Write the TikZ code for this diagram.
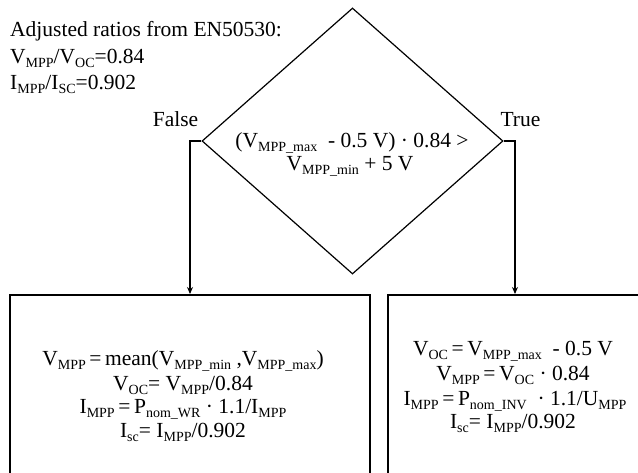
\documentclass[tikz,border=0pt]{standalone}
\usepackage{fontspec}
\setmainfont{Liberation Serif}
\usetikzlibrary{shapes.geometric,arrows.meta}
\newcommand\lo[1]{\raisebox{-0.2em}{\fontsize{14}{14}\selectfont #1}}
\tikzset{
  txt/.style={font=\fontsize{21.5}{25}\selectfont, inner sep=0pt},
  boxnode/.style={draw, line width=1.6pt, inner sep=0pt, anchor=north west, minimum width=360pt, minimum height=240pt},
  arr/.style={line width=1.2pt, -{Stealth[length=7pt,width=6pt]}},
}
\begin{document}
\begin{tikzpicture}[x=1pt,y=-1pt]
\useasboundingbox (0,0) rectangle (638,472);
\clip (0,0) rectangle (638,472);
% header
\node[txt, anchor=base west] (h1) at (10,36) {Adjusted ratios from EN50530:};
\node[txt, anchor=base west] (h2) at (10,63) {V\lo{MPP}/V\lo{OC}=0.84};
\node[txt, anchor=base west] (h3) at (10,89) {I\lo{MPP}/I\lo{SC}=0.902};
% decision
\node[diamond, draw, line width=1.2pt, inner sep=0pt, minimum width=301pt, minimum height=266pt] (dec) at (352.5,141) {};
\node[txt, anchor=base] (d1) at (352,147) {(V\lo{MPP\_max}\ \ - 0.5 V) · 0.84 >};
\node[txt, anchor=base] (d2) at (350,170) {V\lo{MPP\_min} + 5 V};
\node[txt, anchor=base] (fl) at (175.5,126) {False};
\node[txt, anchor=base] (tr) at (520.5,126) {True};
% boxes
\node[boxnode] (lbox) at (9,294) {};
\node[boxnode] (rbox) at (387,294) {};
\coordinate (lin) at (190,294);
\coordinate (rin) at (515,294);
\draw[arr] (dec.west) -| (lin);
\draw[arr] (dec.east) -| (rin);
% left text
\node[txt, anchor=base] (l1) at (183,365) {V\lo{MPP}\,=\,mean(V\lo{MPP\_min} ,V\lo{MPP\_max})};
\node[txt, anchor=base] (l2) at (183,390) {V\lo{OC}= V\lo{MPP}/0.84};
\node[txt, anchor=base] (l3) at (183,413) {I\lo{MPP}\,=\,P\lo{nom\_WR} · 1.1/I\lo{MPP}};
\node[txt, anchor=base] (l4) at (183,437) {I\lo{sc}= I\lo{MPP}/0.902};
% right text
\node[txt, anchor=base] (r1) at (513,355) {V\lo{OC}\,=\,V\lo{MPP\_max}\ \ - 0.5 V};
\node[txt, anchor=base] (r2) at (513,380) {V\lo{MPP}\,=\,V\lo{OC} · 0.84};
\node[txt, anchor=base] (r3) at (515,405) {I\lo{MPP}\,=\,P\lo{nom\_INV}\ \ · 1.1/U\lo{MPP}};
\node[txt, anchor=base] (r4) at (513,428) {I\lo{sc}= I\lo{MPP}/0.902};
\end{tikzpicture}
\end{document}
